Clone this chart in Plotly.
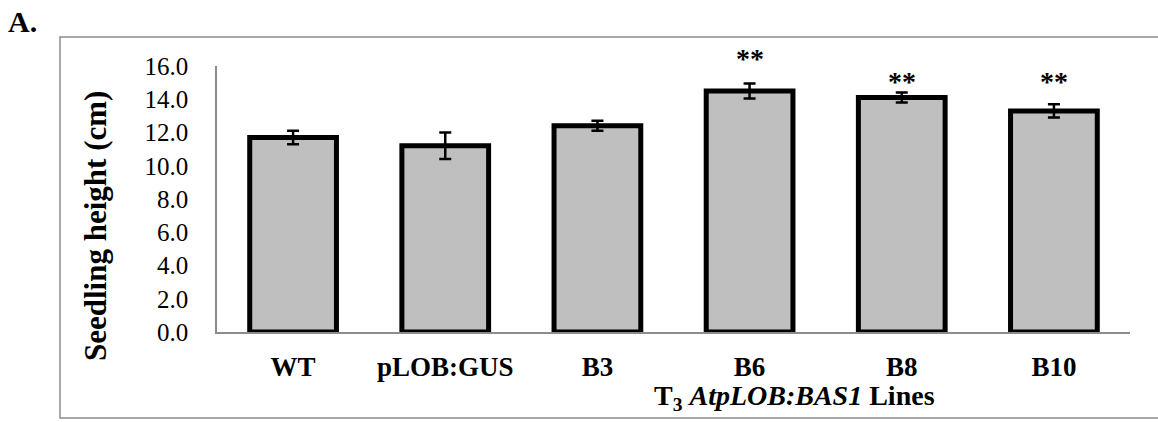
import plotly.graph_objects as go

# ---- data ----
categories = ["WT", "pLOB:GUS", "B3", "B6", "B8", "B10"]
heights = [11.7, 11.2, 12.4, 14.5, 14.1, 13.3]
errors = [0.4, 0.8, 0.3, 0.45, 0.3, 0.4]
sig_labels = ["", "", "", "**", "**", "**"]
sig_levels = [0, 0, 0, 16.45, 15.05, 15.05]
y_ticks = [0, 2, 4, 6, 8, 10, 12, 14, 16]
y_ticklabels = ["%.1f" % v for v in y_ticks]
Y_MAX = 16

W, H = 1158, 422
L, R, T, B = 217, 1130, 66, 332  # plot area in pixels
FONT = "Liberation Serif"


def px(xp):
    return (xp - L) / (R - L)


def py(yp):
    return (B - yp) / (B - T)


fig = go.Figure()
fig.add_trace(go.Bar(
    x=categories, y=heights, width=0.57,
    marker=dict(color="#BFBFBF", line=dict(color="black", width=5)),
    error_y=dict(type="data", array=errors, visible=True,
                 color="black", thickness=2.5, width=6),
    showlegend=False,
))

annotations = []
for c, s, lv in zip(categories, sig_labels, sig_levels):
    if s:
        annotations.append(dict(x=c, y=lv / Y_MAX, xref="x", yref="paper",
                                text="<b>" + s + "</b>",
                                showarrow=False, yanchor="middle",
                                font=dict(family=FONT, size=28, color="black")))

annotations.append(dict(x=px(95), y=py(226), xref="paper", yref="paper",
                        text="<b>Seedling height (cm)</b>", textangle=-90,
                        showarrow=False, xanchor="center", yanchor="middle",
                        font=dict(family=FONT, size=31, color="black")))
annotations.append(dict(x=px(794), y=py(397), xref="paper", yref="paper",
                        text="<b>T<sub>3</sub> <i>AtpLOB:BAS1</i> Lines</b>",
                        showarrow=False, xanchor="center", yanchor="middle",
                        font=dict(family=FONT, size=28, color="black")))
annotations.append(dict(x=px(6), y=py(22), xref="paper", yref="paper",
                        text="<b>A.</b>", showarrow=False,
                        xanchor="left", yanchor="middle",
                        font=dict(family=FONT, size=30, color="black")))

fig.update_layout(
    width=W, height=H,
    margin=dict(l=L, r=W - R, t=T, b=H - B, pad=0),
    paper_bgcolor="white", plot_bgcolor="white",
    font=dict(family=FONT, color="black"),
    bargap=0.43,
    annotations=annotations,
    shapes=[dict(type="rect", xref="paper", yref="paper",
                 x0=px(60), x1=px(1170), y0=py(418), y1=py(37),
                 line=dict(color="#8C8C8C", width=1.5), layer="below")],
)
fig.update_xaxes(
    showline=True, linecolor="#8C8C8C", linewidth=1.5,
    showgrid=False, zeroline=False, ticks="",
    tickfont=dict(family=FONT, size=27, color="black"),
    tickprefix="<b>", ticksuffix="</b>",
    ticklabelstandoff=10,
)
fig.update_yaxes(
    range=[0, Y_MAX], tickvals=y_ticks, ticktext=y_ticklabels,
    showline=True, linecolor="#8C8C8C", linewidth=1.5,
    showgrid=False, zeroline=False, ticks="",
    tickfont=dict(family=FONT, size=25, color="black"),
    ticklabelstandoff=22,
)

fig.write_html("out.html")
